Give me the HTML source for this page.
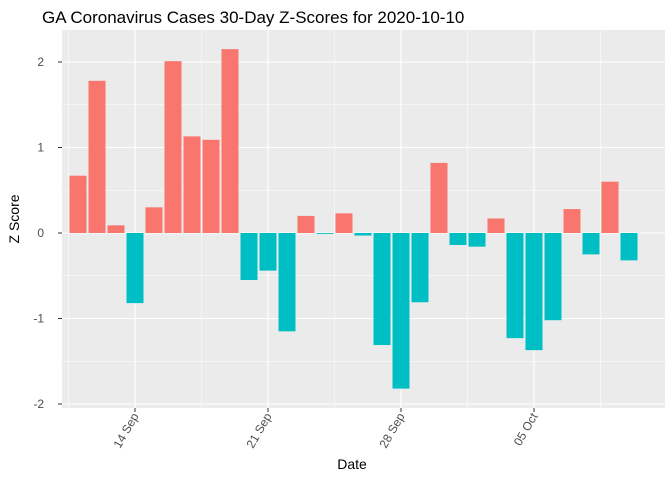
<!DOCTYPE html>
<html><head><meta charset="utf-8"><style>
body{margin:0;background:#fff;font-family:"Liberation Sans",sans-serif;}
</style></head><body>
<svg id="chart" width="672" height="480" xmlns="http://www.w3.org/2000/svg">
<rect width="672" height="480" fill="#fff"/>
<text x="42" y="23" font-size="17" fill="#000">GA Coronavirus Cases 30-Day Z-Scores for 2020-10-10</text>
<rect x="62" y="30" width="603" height="378" fill="#ebebeb"/>
<g id="grid"></g><g id="bars"></g><g id="axes"></g>
<text x="352" y="469" font-size="14" text-anchor="middle">Date</text>
<text transform="translate(19,219) rotate(-90)" font-size="14" text-anchor="middle">Z Score</text>
</svg>
<script>
const values=[0.67,1.78,0.09,-0.82,0.30,2.01,1.13,1.09,2.15,-0.55,-0.44,-1.15,0.20,-0.01,0.23,-0.03,-1.31,-1.82,-0.81,0.82,-0.14,-0.16,0.17,-1.23,-1.37,-1.02,0.28,-0.25,0.60,-0.32];
const yTicks=[-2,-1,0,1,2];
const xTickIdx=[3,10,17,24];
const xTickLabels=["14 Sep","21 Sep","28 Sep","05 Oct"];
const NS="http://www.w3.org/2000/svg";
const x=i=>78+19*i, y=v=>233-85.5*v;
function mk(t,a,p){const e=document.createElementNS(NS,t);for(const k in a)e.setAttribute(k,a[k]);p.appendChild(e);return e;}
const g=document.getElementById('grid'),b=document.getElementById('bars'),ax=document.getElementById('axes');
for(let v=-2;v<=2.01;v+=0.5){const l=mk('line',{x1:62,x2:665,y1:y(v),y2:y(v),stroke:'#fff','stroke-width':Number.isInteger(v)?1.1:0.5},g);

}
for(let k=-0.5;k<=4.6;k+=0.5){const px=x(3+7*k);if(px<62||px>665)continue;const l=mk('line',{x1:px,x2:px,y1:30,y2:408,stroke:'#fff','stroke-width':Number.isInteger(k)?1.1:0.5},g);

}
values.forEach((v,i)=>{const r=mk('rect',{x:x(i)-8.5,width:17,y:Math.min(y(v),y(0)),height:Math.abs(y(v)-y(0)),fill:v>=0?'#f8766d':'#00bfc4'},b);

});
yTicks.forEach(t=>{const l=mk('text',{x:44,y:y(t)+4,'font-size':12,fill:'#4d4d4d','text-anchor':'end'},ax);l.textContent=t;


mk('line',{x1:58,x2:62,y1:y(t),y2:y(t),stroke:'#333'},ax);});
xTickIdx.forEach((idx,j)=>{const px=x(idx);mk('line',{x1:px,x2:px,y1:408,y2:412,stroke:'#333'},ax);
const l=mk('text',{transform:`translate(${px+4},${416}) rotate(-60)`,'font-size':12,fill:'#4d4d4d','text-anchor':'end'},ax);l.textContent=xTickLabels[j];

});
</script>
</body></html>
